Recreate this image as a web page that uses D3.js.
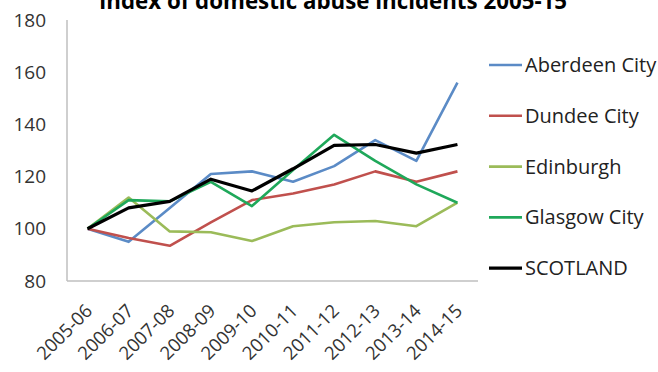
<!DOCTYPE html>
<html><head><meta charset="utf-8">
<script src="https://cdn.jsdelivr.net/npm/d3@7"></script>
<style>body{margin:0;background:#fff}svg{display:block}</style>
</head><body>
<svg id="c" width="658" height="372"></svg>
<script>
const title = "Index of domestic abuse incidents 2005-15";
const categories = ["2005-06","2006-07","2007-08","2008-09","2009-10","2010-11","2011-12","2012-13","2013-14","2014-15"];
const yTicks = [80,100,120,140,160,180];
const seriesNames = ["Aberdeen City","Dundee City","Edinburgh","Glasgow City","SCOTLAND"];
const aberdeen = [100,95,108,121,122,118,124,134,126,156];
const dundee = [100,96.5,93.5,102.5,111,113.5,117,122,118,122];
const edinburgh = [100,112,99,98.7,95.3,101,102.5,103,101,110];
const glasgow = [100,111,110.5,118,108.7,122.5,136,126,117,110];
const scotland = [100,108,110.5,119,114.5,123,132,132.3,129,132.3];
const colors = ["#5b8bc6","#c0504d","#9bbb59","#1fa85a","#000000"];
const seriesValues = [aberdeen,dundee,edinburgh,glasgow,scotland];

const svg = d3.select("#c");
const font = "'Open Sans', sans-serif";
const x = d3.scalePoint().domain(categories).range([67,478]).padding(0.5);
const y = d3.scaleLinear().domain([80,180]).range([281,20]);

svg.append("text").attr("x",333).attr("y",9).attr("text-anchor","middle")
  .attr("font-family",font).attr("font-weight","bold").attr("font-size",22.3).attr("fill","#000").text(title);

// axes lines
svg.append("line").attr("x1",67).attr("x2",67).attr("y1",y(180)).attr("y2",y(80)).attr("stroke","#bfbfbf").attr("stroke-width",1.5);
svg.append("line").attr("x1",67).attr("x2",478).attr("y1",y(80)).attr("y2",y(80)).attr("stroke","#bfbfbf").attr("stroke-width",1.5);

svg.append("g").selectAll("text").data(yTicks).join("text")
  .attr("x",46).attr("y",d=>y(d)).attr("dy","0.35em").attr("text-anchor","end")
  .attr("font-family",font).attr("font-size",19).attr("fill","#333").text(d=>d);

svg.append("g").selectAll("text").data(categories).join("text")
  .attr("transform",d=>`translate(${x(d)+6},${312}) rotate(-45)`)
  .attr("text-anchor","end").attr("font-family",font).attr("font-size",18.5).attr("fill","#333").text(d=>d);

const line = d3.line().x((d,i)=>x(categories[i])).y(d=>y(d));
svg.append("g").selectAll("path").data(seriesValues).join("path")
  .attr("d",d=>line(d)).attr("fill","none")
  .attr("stroke",(d,i)=>colors[i]).attr("stroke-width",(d,i)=>i===4?3.2:2.6)
  .attr("stroke-linejoin","round");

const lg = svg.append("g").selectAll("g").data(seriesNames).join("g")
  .attr("transform",(d,i)=>`translate(0,${65+i*50.8})`);
lg.append("line").attr("x1",489).attr("x2",522).attr("stroke",(d,i)=>colors[i]).attr("stroke-width",(d,i)=>i===4?3.2:2.6);
lg.append("text").attr("x",525).attr("dy","0.35em").attr("font-family",font).attr("font-size",20).attr("fill","#222").text(d=>d);
</script>
</body></html>
